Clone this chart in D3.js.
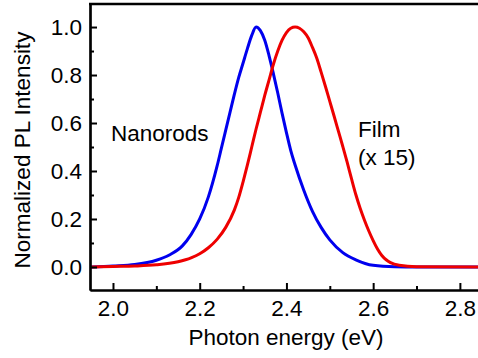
<!DOCTYPE html>
<html>
<head>
<meta charset="utf-8">
<script src="https://cdn.jsdelivr.net/npm/d3@7"></script>
<style>
  body { margin: 0; background: #fff; }
  svg text { font-family: "Liberation Sans", Arial, sans-serif; fill: #000; }
</style>
</head>
<body>
<div id="chart"></div>
<script>
// photon energy (eV) and normalized PL intensity
let rodsEnergy = [1.95, 2.00, 2.05, 2.10, 2.13, 2.16, 2.18, 2.20, 2.22, 2.24, 2.25, 2.26, 2.27, 2.28, 2.29, 2.30, 2.31, 2.32, 2.33, 2.34, 2.35, 2.36, 2.37, 2.38, 2.39, 2.40, 2.41, 2.42, 2.44, 2.46, 2.48, 2.50, 2.53, 2.56, 2.60, 2.65, 2.70, 2.85];
let rodsValue  = [0.0, 0.004, 0.010, 0.028, 0.050, 0.088, 0.135, 0.200, 0.292, 0.420, 0.495, 0.570, 0.645, 0.720, 0.790, 0.850, 0.910, 0.965, 1.000, 0.985, 0.945, 0.880, 0.805, 0.725, 0.640, 0.560, 0.485, 0.425, 0.320, 0.232, 0.165, 0.113, 0.060, 0.030, 0.007, 0.001, 0.0, 0.0];

let filmEnergy = [1.95, 2.00, 2.05, 2.10, 2.15, 2.18, 2.20, 2.22, 2.24, 2.26, 2.28, 2.29, 2.30, 2.31, 2.32, 2.33, 2.34, 2.35, 2.36, 2.37, 2.38, 2.39, 2.40, 2.41, 2.42, 2.43, 2.44, 2.45, 2.46, 2.47, 2.48, 2.49, 2.50, 2.51, 2.52, 2.53, 2.54, 2.55, 2.56, 2.57, 2.58, 2.59, 2.60, 2.61, 2.62, 2.63, 2.64, 2.66, 2.70, 2.85];
let filmValue  = [0.0, 0.002, 0.004, 0.009, 0.022, 0.038, 0.055, 0.080, 0.115, 0.165, 0.238, 0.290, 0.355, 0.425, 0.500, 0.575, 0.645, 0.715, 0.780, 0.845, 0.900, 0.945, 0.977, 0.995, 1.000, 0.995, 0.980, 0.955, 0.915, 0.870, 0.812, 0.752, 0.690, 0.628, 0.565, 0.502, 0.437, 0.368, 0.302, 0.245, 0.195, 0.150, 0.110, 0.075, 0.048, 0.030, 0.018, 0.007, 0.001, 0.0];

let xTicks = [2.0, 2.2, 2.4, 2.6, 2.8];
let xMinor = [2.1, 2.3, 2.5, 2.7];
let yTicks = [0.0, 0.2, 0.4, 0.6, 0.8, 1.0];
let yMinor = [0.1, 0.3, 0.5, 0.7, 0.9];

let svgWidth = 478, svgHeight = 358;
let plotLeft = 90, plotTop = 4, plotBottom = 290, plotRight = 482;
let fontSize = "22.5px";

let x = d3.scaleLinear().domain([1.947, 2.851]).range([plotLeft, plotRight]);
let y = d3.scaleLinear().domain([-0.096, 1.096]).range([plotBottom, plotTop]);

let svg = d3.select("#chart").append("svg")
    .attr("width", svgWidth)
    .attr("height", svgHeight);

// curves
let line = d3.line()
    .x(function(d) { return x(d[0]); })
    .y(function(d) { return y(d[1]); })
    .curve(d3.curveMonotoneX);

svg.append("path")
    .datum(d3.zip(rodsEnergy, rodsValue))
    .attr("d", line)
    .attr("fill", "none")
    .attr("stroke", "#0000ee")
    .attr("stroke-width", 3);

svg.append("path")
    .datum(d3.zip(filmEnergy, filmValue))
    .attr("d", line)
    .attr("fill", "none")
    .attr("stroke", "#ee0000")
    .attr("stroke-width", 3);

// axes, ticks pointing inward
let xAxis = svg.append("g")
    .attr("transform", "translate(0," + plotBottom + ")")
    .call(d3.axisBottom(x).tickValues(xTicks).tickSizeInner(-7).tickSizeOuter(0)
        .tickFormat(d3.format(".1f")));
svg.append("g")
    .attr("transform", "translate(0," + plotBottom + ")")
    .call(d3.axisBottom(x).tickValues(xMinor).tickSizeInner(-4).tickSizeOuter(0).tickFormat(""));

let yAxis = svg.append("g")
    .attr("transform", "translate(" + plotLeft + ",0)")
    .call(d3.axisLeft(y).tickValues(yTicks).tickSizeInner(-7).tickSizeOuter(0)
        .tickFormat(d3.format(".1f")));
svg.append("g")
    .attr("transform", "translate(" + plotLeft + ",0)")
    .call(d3.axisLeft(y).tickValues(yMinor).tickSizeInner(-4).tickSizeOuter(0).tickFormat(""));

svg.selectAll(".domain").attr("stroke", "#000").attr("stroke-width", 2.2);
svg.selectAll(".tick line").attr("stroke", "#000").attr("stroke-width", 2);

xAxis.selectAll(".tick text")
    .attr("font-size", fontSize)
    .attr("font-family", "Liberation Sans, Arial, sans-serif")
    .attr("y", 10)
    .attr("dy", "0.71em");
yAxis.selectAll(".tick text")
    .attr("font-size", fontSize)
    .attr("font-family", "Liberation Sans, Arial, sans-serif")
    .attr("x", -8)
    .attr("dy", "0.35em");

// top frame line
svg.append("line")
    .attr("x1", plotLeft - 1).attr("x2", svgWidth)
    .attr("y1", plotTop).attr("y2", plotTop)
    .attr("stroke", "#000")
    .attr("stroke-width", 2.4);

// titles
svg.append("text")
    .attr("x", 286)
    .attr("y", 345)
    .attr("text-anchor", "middle")
    .attr("font-size", fontSize)
    .text("Photon energy (eV)");

svg.append("text")
    .attr("transform", "translate(30,150) rotate(-90)")
    .attr("text-anchor", "middle")
    .attr("font-size", fontSize)
    .text("Normalized PL Intensity");

// curve labels
svg.append("text")
    .attr("x", 111)
    .attr("y", 141)
    .attr("font-size", fontSize)
    .text("Nanorods");

svg.append("text")
    .attr("x", 358)
    .attr("y", 137)
    .attr("font-size", fontSize)
    .text("Film");

svg.append("text")
    .attr("x", 358)
    .attr("y", 165)
    .attr("font-size", fontSize)
    .text("(x 15)");
</script>
</body>
</html>
